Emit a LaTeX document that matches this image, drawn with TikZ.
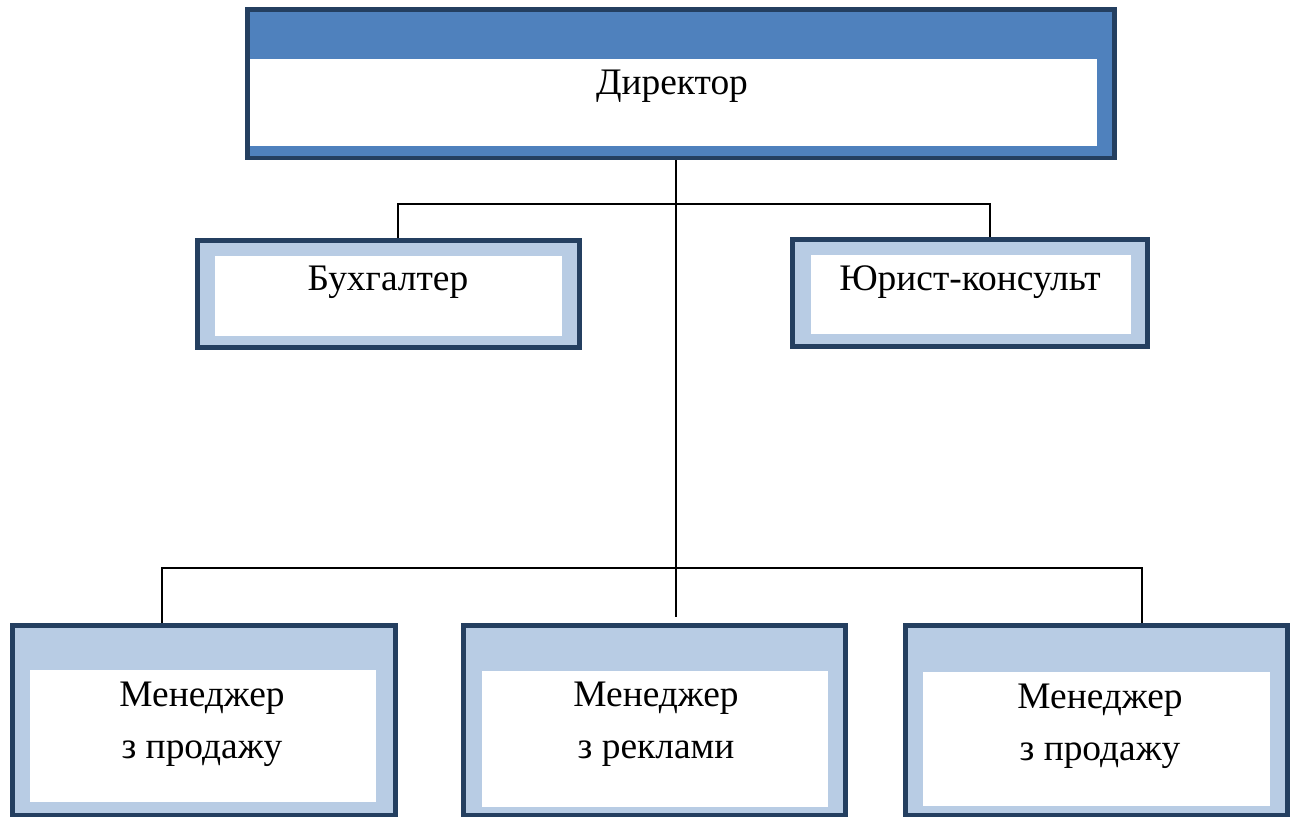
\documentclass[tikz,border=0pt]{standalone}
\usepackage{fontspec}
\setmainfont{Liberation Serif}
\definecolor{frameNavy}{HTML}{243F60}
\definecolor{dirBlue}{HTML}{4F81BD}
\definecolor{paleBlue}{HTML}{B8CCE4}
\begin{document}
\begin{tikzpicture}[x=0.02cm,y=-0.02cm,
  box/.style={draw=frameNavy,line width=2.8pt,fill=paleBlue,inner sep=0pt},
  link/.style={draw=black,line width=0.85pt},
  every node/.style={font=\fontsize{21.3}{29.5}\selectfont,inner sep=0pt}]
  \useasboundingbox (0,0) rectangle (1294,816);
  % frames
  \node[box,fill=dirBlue,minimum width=17.35cm,minimum height=2.97cm] (dir) at (681.25,83.75) {};
  \node[box,minimum width=7.64cm,minimum height=2.14cm] (buh) at (388.5,294) {};
  \node[box,minimum width=7.10cm,minimum height=2.14cm] (jur) at (970,293) {};
  \node[box,minimum width=7.66cm,minimum height=3.79cm] (man1) at (204,720.25) {};
  \node[box,minimum width=7.64cm,minimum height=3.79cm] (man2) at (654.5,720.25) {};
  \node[box,minimum width=7.64cm,minimum height=3.79cm] (man3) at (1096.5,720.25) {};
  % white panels
  \fill[white] (250,59) rectangle (1097,146);
  \fill[white] (215,256) rectangle (562,336);
  \fill[white] (811,255) rectangle (1131,334);
  \fill[white] (30,670) rectangle (376,802);
  \fill[white] (482,671) rectangle (828,807);
  \fill[white] (923,672) rectangle (1270,806);
  % texts
  \node[anchor=base] (dirT) at (672,94) {Директор};
  \node[anchor=base] (buhT) at (388,290) {Бухгалтер};
  \node[anchor=base] (jurT) at (970,290) {Юрист-консульт};
  \node[align=center] (man1T) at (202,724) {Менеджер\\з продажу};
  \node[align=center] (man2T) at (656,724) {Менеджер\\з реклами};
  \node[align=center] (man3T) at (1100,726) {Менеджер\\з продажу};
  % connectors
  \coordinate (spine) at (676,617);
  \coordinate (barL) at (398,204);
  \coordinate (barR) at (990,204);
  \coordinate (lowL) at (162,568);
  \coordinate (lowR) at (1142,568);
  \draw[link] (spine |- dir.south) -- (spine);
  \draw[link] (barL |- buh.north) -- (barL) -- (barR) -- (barR |- jur.north);
  \draw[link] (lowL |- man1.north) -- (lowL) -- (lowR) -- (lowR |- man3.north);
\end{tikzpicture}
\end{document}
